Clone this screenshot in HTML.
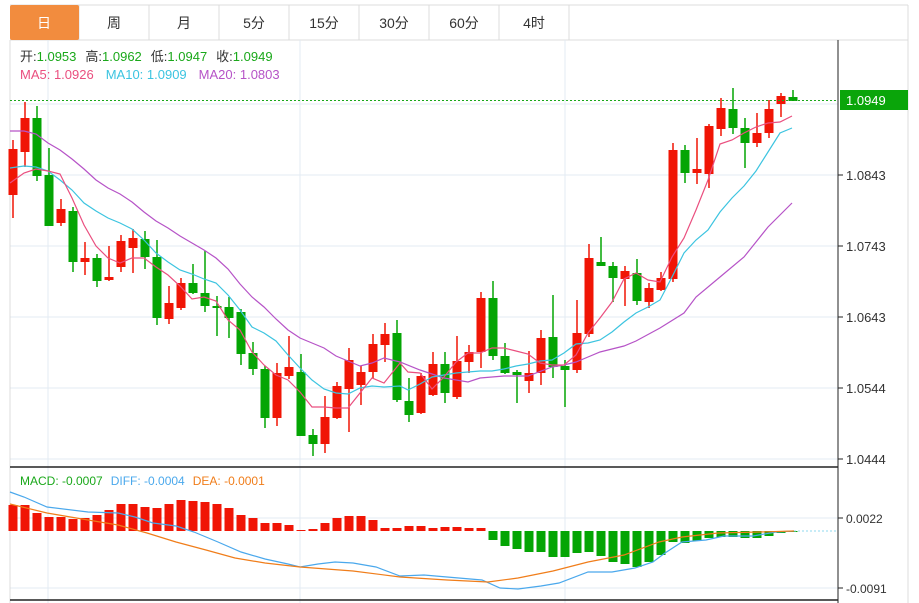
<!DOCTYPE html>
<html><head><meta charset="utf-8"><style>
body{margin:0;background:#fff;width:919px;height:603px;overflow:hidden;font-family:"Liberation Sans","Noto Sans CJK SC",sans-serif}
svg{position:absolute;left:0;top:0}
</style></head><body>
<svg id="s" width="919" height="603" xmlns="http://www.w3.org/2000/svg" font-family="Liberation Sans, Noto Sans CJK SC, sans-serif">
<rect x="0" y="0" width="919" height="603" fill="#fff"/>
<!-- tabs -->
<g stroke="#dcdcdc" fill="none">
<line x1="10" y1="5" x2="908" y2="5"/><line x1="10" y1="40" x2="908" y2="40"/>
<line x1="79" y1="5" x2="79" y2="40"/><line x1="149" y1="5" x2="149" y2="40"/><line x1="219" y1="5" x2="219" y2="40"/><line x1="289" y1="5" x2="289" y2="40"/><line x1="359" y1="5" x2="359" y2="40"/><line x1="429" y1="5" x2="429" y2="40"/><line x1="499" y1="5" x2="499" y2="40"/><line x1="569" y1="5" x2="569" y2="40"/>
<line x1="908" y1="5" x2="908" y2="603"/>
</g>
<rect x="10" y="5" width="69" height="35" rx="2" fill="#f28c3e"/>
<g font-size="14" text-anchor="middle" fill="#333">
<text x="44" y="28" fill="#fff">日</text><text x="114" y="28">周</text><text x="184" y="28">月</text><text x="254" y="28">5分</text><text x="324" y="28">15分</text><text x="394" y="28">30分</text><text x="464" y="28">60分</text><text x="534" y="28">4时</text>
</g>
<!-- grid -->
<g stroke="#e3ebf3" stroke-width="1">
<line x1="48" y1="40" x2="48" y2="603"/><line x1="300" y1="40" x2="300" y2="603"/><line x1="565" y1="40" x2="565" y2="603"/>
<line x1="10" y1="104" x2="838" y2="104"/><line x1="10" y1="175" x2="838" y2="175"/><line x1="10" y1="246" x2="838" y2="246"/><line x1="10" y1="317" x2="838" y2="317"/><line x1="10" y1="388" x2="838" y2="388"/><line x1="10" y1="459" x2="838" y2="459"/>
<line x1="10" y1="518" x2="838" y2="518"/><line x1="10" y1="588" x2="838" y2="588"/>
</g>
<line x1="10" y1="40" x2="10" y2="603" stroke="#dcdcdc"/>
<g id="c"></g>
<line x1="10" y1="100.5" x2="838" y2="100.5" stroke="#1aa81a" stroke-dasharray="2,2"/>
<line x1="10" y1="467" x2="838" y2="467" stroke="#222" stroke-width="1.5"/>
<line x1="10" y1="600" x2="838" y2="600" stroke="#222" stroke-width="1.5"/>
<line x1="838" y1="40" x2="838" y2="603" stroke="#222"/>
<g stroke="#222"><line x1="838" y1="175" x2="843" y2="175"/><line x1="838" y1="246" x2="843" y2="246"/><line x1="838" y1="317" x2="843" y2="317"/><line x1="838" y1="388" x2="843" y2="388"/><line x1="838" y1="459" x2="843" y2="459"/><line x1="838" y1="518" x2="843" y2="518"/><line x1="838" y1="588" x2="843" y2="588"/></g>
<rect x="840" y="90" width="68" height="20" fill="#0aa50a"/>
<text x="846" y="105" font-size="13" fill="#fff">1.0949</text>
<g font-size="13" fill="#333">
<text x="846" y="180">1.0843</text><text x="846" y="251">1.0743</text><text x="846" y="322">1.0643</text><text x="846" y="393">1.0544</text><text x="846" y="464">1.0444</text>
<text x="846" y="523" font-size="12">0.0022</text><text x="846" y="593" font-size="12">-0.0091</text>
</g>
<g font-size="13">
<text x="20" y="61"><tspan fill="#333">开:</tspan><tspan fill="#1aa81a">1.0953</tspan><tspan fill="#333" dx="9">高:</tspan><tspan fill="#1aa81a">1.0962</tspan><tspan fill="#333" dx="9">低:</tspan><tspan fill="#1aa81a">1.0947</tspan><tspan fill="#333" dx="9">收:</tspan><tspan fill="#1aa81a">1.0949</tspan></text>
<text x="20" y="79"><tspan fill="#ea4f7f">MA5: 1.0926</tspan><tspan fill="#3cc4e0" dx="12">MA10: 1.0909</tspan><tspan fill="#b653c7" dx="12">MA20: 1.0803</tspan></text>
<text x="20" y="485" font-size="12"><tspan fill="#1aa81a">MACD: -0.0007</tspan><tspan fill="#4aa8ec" dx="8">DIFF: -0.0004</tspan><tspan fill="#f07d1a" dx="8">DEA: -0.0001</tspan></text>
</g>
</svg>
<script>
var C=[[149,195,140,218,1],[118,152,102,167,1],[118,176,106,181,0],[175,226,148,226,0],[209,223,199,226,1],[211,262,207,272,0],[258,262,242,275,1],[258,281,254,287,0],[277,280,246,281,1],[241,267,235,272,1],[238,248,229,273,1],[239,257,231,269,0],[257,318,240,325,0],[303,319,286,324,1],[283,308,278,310,1],[283,293,264,294,0],[293,306,251,312,0],[306,307,296,336,0],[307,318,297,338,0],[312,354,309,365,0],[353,369,342,375,0],[369,418,366,428,0],[373,418,363,426,1],[367,376,336,379,1],[372,436,354,436,0],[435,444,429,456,0],[417,444,396,453,1],[386,418,382,419,1],[360,389,348,432,1],[372,385,366,405,1],[344,372,334,378,1],[334,345,323,362,1],[333,400,320,402,0],[401,415,378,422,0],[376,413,373,414,1],[364,395,352,396,1],[364,393,352,403,0],[361,397,336,399,1],[352,362,345,373,1],[298,352,292,368,1],[298,356,281,360,0],[356,373,343,374,0],[372,375,370,403,0],[373,381,351,393,1],[338,373,330,385,1],[337,367,295,378,0],[366,370,360,407,0],[333,370,300,373,1],[258,334,244,337,1],[262,266,237,266,0],[266,278,262,302,0],[271,279,266,306,1],[273,301,259,305,0],[288,302,283,308,1],[278,290,272,291,1],[150,279,143,282,1],[150,173,145,183,0],[169,173,138,184,1],[126,174,124,188,1],[108,129,98,136,1],[109,128,88,134,0],[128,143,118,168,0],[133,143,113,147,1],[109,133,100,138,1],[96,104,93,117,1],[97,101,90,101,0]];
var M=[505,505,513,517,517,519,518,515,510,504,504,507,508,504,500,501,502,504,508,515,518,523,523,525,530,529,523,518,516,516,520,528,528,526,526,528,527,527,528,528,540,546,549,552,552,557,557,553,552,556,562,564,567,562,555,542,543,541,538,537,537,538,538,536,533,532];
var ma5=[[10,183],[24,173],[36,169],[48,171],[60,174],[72,198],[84,225],[96,246],[108,258],[120,263],[132,258],[144,258],[156,267],[168,275],[180,286],[192,299],[204,297],[216,301],[228,320],[240,330],[252,352],[264,365],[276,375],[288,380],[300,392],[312,407],[324,407],[336,408],[348,408],[360,393],[372,378],[384,383],[400,363],[408,372],[420,373],[432,389],[444,377],[456,362],[468,353],[480,353],[492,348],[504,348],[516,351],[528,354],[540,363],[552,365],[564,365],[576,355],[588,333],[600,318],[612,302],[624,279],[636,273],[648,280],[660,282],[672,257],[684,238],[696,210],[708,180],[720,144],[732,140],[744,133],[756,127],[768,123],[780,122],[792,116]];
var ma10=[[10,168],[24,166],[36,167],[48,171],[60,180],[72,190],[84,203],[96,211],[108,218],[120,223],[132,229],[144,240],[156,253],[168,262],[180,270],[192,274],[204,279],[216,283],[228,295],[240,310],[252,327],[264,333],[276,341],[288,355],[300,368],[312,380],[324,389],[336,393],[348,394],[360,388],[372,386],[384,387],[400,386],[408,390],[420,384],[432,377],[444,375],[456,373],[468,372],[480,371],[492,371],[504,369],[516,366],[528,364],[540,361],[552,360],[564,353],[576,344],[588,343],[600,340],[612,332],[624,322],[636,313],[648,307],[660,300],[672,277],[684,253],[696,240],[708,230],[720,212],[732,198],[744,186],[756,171],[768,152],[780,133],[792,128]];
var ma20=[[10,131],[24,131],[36,134],[48,143],[60,150],[72,159],[84,169],[96,180],[108,188],[120,194],[132,202],[144,212],[156,221],[168,228],[180,236],[192,243],[204,250],[216,258],[228,269],[240,284],[252,297],[264,307],[276,319],[288,330],[300,338],[312,343],[324,348],[336,356],[348,361],[360,366],[372,363],[384,358],[400,362],[420,370],[444,378],[468,382],[480,378],[504,376],[528,376],[552,367],[564,365],[576,362],[588,357],[600,352],[624,346],[636,341],[660,328],[684,313],[696,297],[720,277],[744,257],[756,242],[768,227],[792,203]];
var diff=[[10,492],[24,497],[47,507],[88,512],[118,513],[135,517],[153,523],[176,526],[194,532],[218,542],[241,552],[265,559],[288,564],[300,567],[318,564],[335,562],[353,563],[376,567],[400,576],[424,575],[447,577],[482,580],[500,588],[518,589],[541,586],[559,583],[588,572],[612,572],[635,568],[653,562],[665,553],[682,542],[706,540],[724,536],[753,536],[776,532],[794,531]];
var dea=[[10,504],[47,513],[88,520],[118,525],[147,533],[176,542],[206,550],[235,558],[265,563],[300,567],[353,571],[400,577],[447,580],[488,582],[518,578],[553,571],[588,562],[624,555],[659,542],[682,537],[718,533],[759,532],[794,531]];
var h='';
C.forEach(function(c,i){var x=13+12*i,col=c[4]?'#f01505':'#04a504';
h+='<line x1="'+x+'" y1="'+c[2]+'" x2="'+x+'" y2="'+c[3]+'" stroke="'+col+'" stroke-width="1.5"/>';
h+='<rect x="'+(x-4.5)+'" y="'+c[0]+'" width="9" height="'+Math.max(2,c[1]-c[0])+'" fill="'+col+'"/>';});
M.forEach(function(v,i){var x=13+12*i,z=531,col=v<z?'#f01505':'#04a504';
var y=Math.min(v,z),hh=Math.max(1,Math.abs(v-z));h+='<rect x="'+(x-4.5)+'" y="'+y+'" width="9" height="'+hh+'" fill="'+col+'"/>';});
h+='<line x1="794" y1="531" x2="838" y2="531" stroke="#8fd8ef" stroke-dasharray="2,2"/>';
function pl(p,c){return '<polyline fill="none" stroke="'+c+'" stroke-width="1.2" points="'+p.map(function(q){return q.join(',')}).join(' ')+'"/>';}
h+=pl(ma20,'#b653c7')+pl(ma10,'#3cc4e0')+pl(ma5,'#ea4f7f')+pl(diff,'#4aa8ec')+pl(dea,'#f07d1a');
document.getElementById('c').innerHTML=h;
</script>
</body></html>
